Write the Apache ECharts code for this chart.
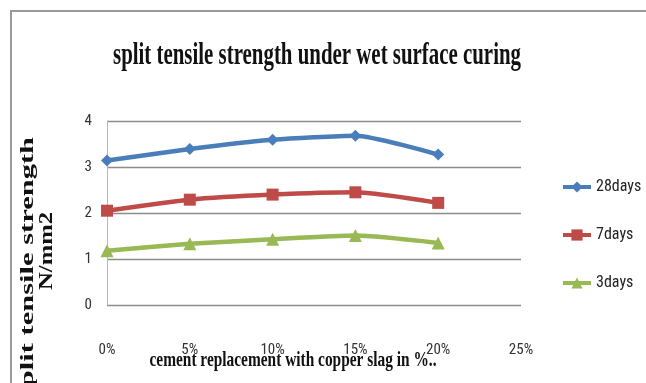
<!DOCTYPE html>
<html>
<head>
<meta charset="utf-8">
<script src="https://cdn.jsdelivr.net/npm/echarts@6/dist/echarts.min.js"></script>
<style>
  html, body { margin: 0; padding: 0; background: #fff; }
  #chart { width: 646px; height: 383px; }
</style>
</head>
<body>
<div id="chart"></div>
<script>
// Split tensile strength (N/mm2) vs. copper slag replacement
const categories = ['0%', '5%', '10%', '15%', '20%', '25%'];
const days28 = [3.14, 3.39, 3.59, 3.68, 3.27];
const days7 = [2.05, 2.29, 2.40, 2.45, 2.22];
const days3 = [1.18, 1.33, 1.43, 1.51, 1.35];
const yTicks = { min: 0, max: 4, interval: 1 };

const titleText = 'split tensile strength under wet surface curing';
const xTitleText = 'cement replacement with copper slag in %..';
const yTitleLine1 = 'split tensile strength';
const yTitleLine2 = 'N/mm2';

const NARROW = "'Liberation Sans Narrow', 'Roboto Condensed', 'Liberation Sans', sans-serif";
const SERIF = "'Liberation Serif', 'Times New Roman', serif";

// stretch factor so a string spans a given length
function fitScale(text, font, width) {
  const ctx = document.createElement('canvas').getContext('2d');
  ctx.font = font;
  return width / ctx.measureText(text).width;
}

const titleFont = 'bold 32px ' + SERIF;
const xTitleFont = 'bold 21px ' + SERIF;
const yTitleFont = 'bold 18px ' + SERIF;

const chart = echarts.init(document.getElementById('chart'), null, { renderer: 'canvas' });

function lineSeries(name, data, color, symbol, size) {
  return {
    name, type: 'line', data, smooth: 0.2,
    symbol, symbolSize: size,
    lineStyle: { color, width: 4.5 },
    itemStyle: { color },
    emphasis: { disabled: true }
  };
}

chart.setOption({
  animation: false,
  backgroundColor: '#fff',
  grid: { left: 107, top: 121, right: 125, bottom: 78 },
  xAxis: {
    type: 'category', data: categories, boundaryGap: false,
    axisLine: { show: false }, axisTick: { show: false },
    axisLabel: { margin: 38, fontSize: 15, color: '#333', fontFamily: NARROW },
    splitLine: { show: false }
  },
  yAxis: {
    type: 'value', min: yTicks.min, max: yTicks.max, interval: yTicks.interval,
    axisLine: { show: true, lineStyle: { color: '#b8b8b8', width: 1 } },
    axisTick: { show: false },
    axisLabel: { margin: 15, fontSize: 15, color: '#333', fontFamily: NARROW },
    splitLine: { show: true, lineStyle: { color: '#8c8c8c', width: 1.3 } }
  },
  legend: {
    orient: 'vertical', left: 556, top: 174,
    itemWidth: 28, itemHeight: 14, itemGap: 32,
    lineStyle: { width: 4 },
    textStyle: { fontSize: 16, color: '#222', fontFamily: NARROW, lineHeight: 14 },
    data: ['28days', '7days', '3days']
  },
  series: [
    lineSeries('28days', days28, '#4A7EBB', 'diamond', 12),
    lineSeries('7days', days7, '#BE4B48', 'rect', 12),
    lineSeries('3days', days3, '#98B954', 'triangle', 13)
  ],
  graphic: [
    {
      type: 'rect', silent: true, z: -1,
      shape: { x: 11, y: 11, width: 700, height: 420 },
      style: { fill: 'none', stroke: '#9a9a9a', lineWidth: 2 }
    },
    {
      type: 'text', x: 317, y: 56,
      scaleX: fitScale(titleText, titleFont, 408),
      style: { text: titleText, font: titleFont, fill: '#111', align: 'center', verticalAlign: 'middle' }
    },
    {
      type: 'text', x: 293, y: 361,
      scaleX: fitScale(xTitleText, xTitleFont, 287),
      style: { text: xTitleText, font: xTitleFont, fill: '#111', align: 'center', verticalAlign: 'middle' }
    },
    {
      type: 'text', x: 28, y: 268, rotation: Math.PI / 2,
      scaleX: fitScale(yTitleLine1, yTitleFont, 262),
      style: { text: yTitleLine1, font: yTitleFont, fill: '#111', align: 'center', verticalAlign: 'middle' }
    },
    {
      type: 'text', x: 47, y: 251, rotation: Math.PI / 2,
      scaleX: fitScale(yTitleLine2, yTitleFont, 78),
      style: { text: yTitleLine2, font: yTitleFont, fill: '#111', align: 'center', verticalAlign: 'middle' }
    }
  ]
});
</script>
</body>
</html>
